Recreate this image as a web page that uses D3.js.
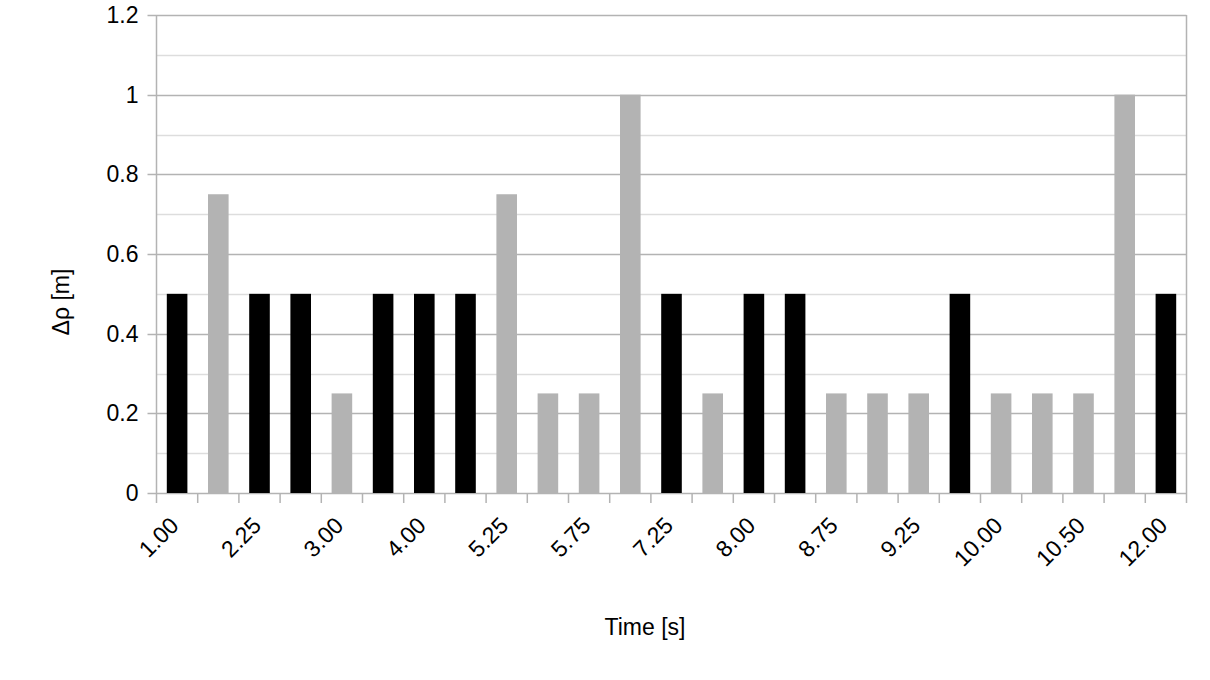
<!DOCTYPE html>
<html>
<head>
<script src="https://d3js.org/d3.v7.min.js"></script>
<style>
  body { margin: 0; background: #fff; }
  text { font-family: "Liberation Sans", Arial, sans-serif; }
</style>
</head>
<body>
<div id="chart"></div>
<script>
// time stamps (every other one is labelled on the axis)
var times = ["1.00","1.75","2.25","2.75","3.00","3.50","4.00","4.50","5.25","5.50","5.75","6.75","7.25",
             "7.50","8.00","8.50","8.75","9.00","9.25","9.75","10.00","10.25","10.50","11.50","12.00"];
// delta rho per step
var deltas = [0.5,0.75,0.5,0.5,0.25,0.5,0.5,0.5,0.75,0.25,0.25,1.0,0.5,
              0.25,0.5,0.5,0.25,0.25,0.25,0.5,0.25,0.25,0.25,1.0,0.5];
var yTicks = [0, 0.2, 0.4, 0.6, 0.8, 1, 1.2];
var yMinor = [0.1, 0.3, 0.5, 0.7, 0.9, 1.1];

var W = 1210, H = 680;
var margin = {top: 15, right: 23.5, bottom: 187, left: 156.5};
var width = W - margin.left - margin.right,
    height = H - margin.top - margin.bottom;

var svg = d3.select("#chart").append("svg")
    .attr("width", W).attr("height", H);
var g = svg.append("g")
    .attr("transform", "translate(" + margin.left + "," + margin.top + ")");

var x = d3.scaleBand().domain(d3.range(times.length)).range([0, width]).paddingInner(0.5).paddingOuter(0.25);
var y = d3.scaleLinear().domain([0, 1.2]).range([height, 0]);

// minor grid
g.selectAll(".minor").data(yMinor).enter().append("line")
  .attr("x1", 0).attr("x2", width)
  .attr("y1", function(d) { return Math.round(y(d)) + 0.5; })
  .attr("y2", function(d) { return Math.round(y(d)) + 0.5; })
  .attr("stroke", "#dddddd").attr("stroke-width", 1.5);

// major grid
g.selectAll(".major").data(yTicks).enter().append("line")
  .attr("x1", -9).attr("x2", width)
  .attr("y1", function(d) { return Math.round(y(d)) + 0.5; })
  .attr("y2", function(d) { return Math.round(y(d)) + 0.5; })
  .attr("stroke", "#b3b3b3").attr("stroke-width", 1.5);

// bars
g.selectAll(".bar").data(deltas).enter().append("rect")
  .attr("x", function(d, i) { return x(i); })
  .attr("width", x.bandwidth())
  .attr("y", function(d) { return y(d); })
  .attr("height", function(d) { return height - y(d); })
  .attr("fill", function(d) { return d == 0.5 ? "#000000" : "#b3b3b3"; });

// axes lines
g.append("line").attr("x1", 0).attr("x2", 0).attr("y1", 0).attr("y2", height)
  .attr("stroke", "#b3b3b3").attr("stroke-width", 1.5);
g.append("line").attr("x1", width).attr("x2", width).attr("y1", 0).attr("y2", height)
  .attr("stroke", "#b3b3b3").attr("stroke-width", 1.5);

// x ticks at category boundaries
g.selectAll(".xt").data(d3.range(times.length + 1)).enter().append("line")
  .attr("x1", function(d) { return d * width / times.length; })
  .attr("x2", function(d) { return d * width / times.length; })
  .attr("y1", height).attr("y2", height + 10)
  .attr("stroke", "#b3b3b3").attr("stroke-width", 1.5);

// y tick labels
g.selectAll(".yl").data(yTicks).enter().append("text")
  .attr("x", -18).attr("y", function(d) { return y(d); })
  .attr("dy", "0.35em").attr("text-anchor", "end")
  .attr("font-size", 23).attr("fill", "#000")
  .text(function(d) { return d; });

// x labels, every other
g.selectAll(".xl").data(times.filter(function(d, i) { return i % 2 == 0; })).enter().append("text")
  .attr("transform", function(d, i) {
    var cx = x(i * 2) + x.bandwidth() / 2 + 3;
    return "translate(" + cx + "," + (height + 34) + ") rotate(-45)";
  })
  .attr("text-anchor", "end")
  .attr("font-size", 23).attr("fill", "#000")
  .text(function(d) { return d; });

// axis titles
svg.append("text")
  .attr("x", 645).attr("y", 635)
  .attr("text-anchor", "middle").attr("font-size", 23)
  .text("Time [s]");
svg.append("text")
  .attr("transform", "translate(69,302) rotate(-90)")
  .attr("text-anchor", "middle").attr("font-size", 23)
  .text("Δρ [m]");
</script>
</body>
</html>
